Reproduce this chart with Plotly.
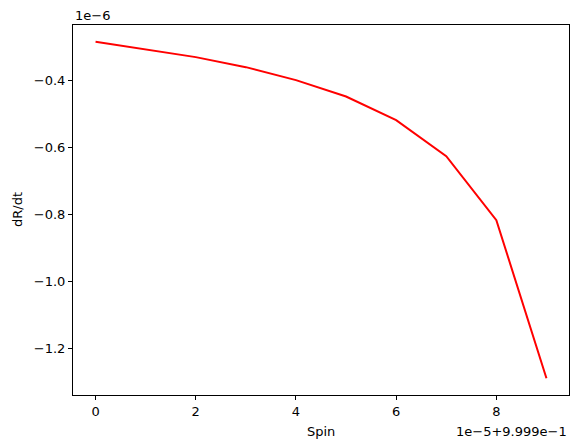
import plotly.graph_objects as go

# spin values (0.9999 + i*1e-5) and dR/dt
spin = [0.9999, 0.99991, 0.99992, 0.99993, 0.99994, 0.99995, 0.99996, 0.99997, 0.99998, 0.99999]
drdt = [-2.856e-7, -3.075e-7, -3.313e-7, -3.612e-7, -4.000e-7, -4.488e-7, -5.194e-7, -6.269e-7, -8.179e-7, -1.2896e-6]

x_ticks = ["0", "2", "4", "6", "8"]
y_ticks = ["\u22121.2", "\u22121.0", "\u22120.8", "\u22120.6", "\u22120.4"]

base = 0.9999
x_tickvals = [base + int(t) * 1e-5 for t in x_ticks]
y_tickvals = [float(t.replace("\u2212", "-")) * 1e-6 for t in y_ticks]

font = dict(family="DejaVu Sans", size=13, color="black")

fig = go.Figure()
fig.add_trace(go.Scatter(x=spin, y=drdt, mode="lines",
                         line=dict(color="red", width=2)))

# matplotlib style 5% padding
xspan = spin[-1] - spin[0]
yspan = max(drdt) - min(drdt)
fig.update_xaxes(range=[spin[0] - 0.05 * xspan, spin[-1] + 0.05 * xspan],
                 tickvals=x_tickvals, ticktext=x_ticks,
                 showline=True, mirror=True, linecolor="black", linewidth=1,
                 ticks="outside", ticklen=4, tickcolor="black", showgrid=False,
                 zeroline=False, tickfont=font)
fig.update_yaxes(range=[min(drdt) - 0.05 * yspan, max(drdt) + 0.05 * yspan],
                 tickvals=y_tickvals, ticktext=y_ticks,
                 showline=True, mirror=True, linecolor="black", linewidth=1,
                 ticks="outside", ticklen=4, tickcolor="black", showgrid=False,
                 zeroline=False, tickfont=font)

fig.update_layout(
    width=579, height=448,
    margin=dict(l=73, r=10, t=25, b=53),
    plot_bgcolor="white", paper_bgcolor="white",
    showlegend=False, font=font,
)
fig.add_annotation(text="Spin", xref="paper", yref="paper", x=0.5, y=0,
                   yshift=-36, showarrow=False, font=font, yanchor="middle")
fig.add_annotation(text="1e\u22125+9.999e\u22121", xref="paper", yref="paper",
                   x=1, y=0, yshift=-36, xanchor="right", yanchor="middle",
                   showarrow=False, font=font)
fig.add_annotation(text="1e\u22126", xref="paper", yref="paper", x=0, y=1,
                   yshift=10, xanchor="left", yanchor="middle",
                   showarrow=False, font=font)
fig.add_annotation(text="dR/dt", xref="paper", yref="paper", x=0, y=0.5,
                   xshift=-56, textangle=-90, xanchor="center", yanchor="middle",
                   showarrow=False, font=font)

fig.write_html("out.html", config={"displayModeBar": False},
               post_script="document.body.style.margin='0';")
